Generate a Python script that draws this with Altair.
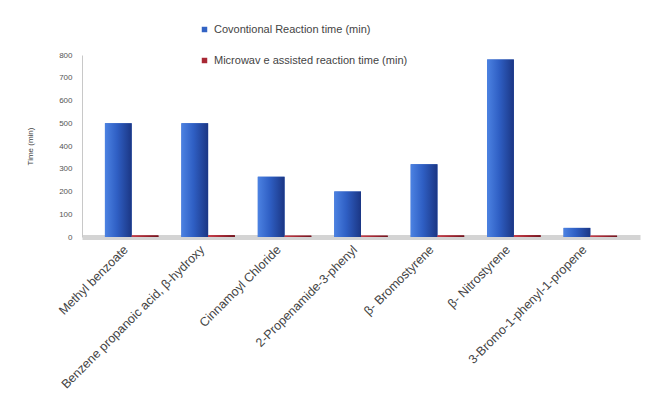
import altair as alt
import pandas as pd

# Compounds on the x axis
compounds = [
    "Methyl benzoate",
    "Benzene propanoic acid, β-hydroxy",
    "Cinnamoyl Chloride",
    "2-Propenamide-3-phenyl",
    "β- Bromostyrene",
    "β- Nitrostyrene",
    "3-Bromo-1-phenyl-1-propene",
]

# Reaction times (min)
conventional = [500, 500, 265, 200, 320, 780, 40]
microwave = [7, 8, 6, 6, 7, 8, 6]

series_names = [
    "Covontional Reaction time (min)",
    "Microwav e assisted reaction time (min)",
]
series_colors = ["#3263C4", "#A82834"]

rows = []
for c, v1, v2 in zip(compounds, conventional, microwave):
    rows.append({"compound": c, "series": series_names[0], "time": v1})
    rows.append({"compound": c, "series": series_names[1], "time": v2})
df = pd.DataFrame(rows)

x_enc = alt.X(
    "compound:N",
    sort=compounds,
    title=None,
    scale=alt.Scale(paddingInner=0.3, paddingOuter=0.3),
    axis=alt.Axis(
        labelAngle=-45,
        labelFontSize=12.5,
        labelColor="#444444",
        labelFont="Liberation Sans",
        labelPadding=6,
        labelOffset=-10,
        ticks=False,
        domainColor="#D4D4D4",
        domainWidth=5,
        labelLimit=400,
    ),
)
y_enc = alt.Y(
    "time:Q",
    title="Time (min)",
    scale=alt.Scale(domain=[0, 800]),
    axis=alt.Axis(
        values=list(range(0, 801, 100)),
        labelFontSize=8,
        labelColor="#555555",
        labelFont="Liberation Sans",
        titleFontSize=8,
        titleFont="Liberation Sans",
        titleFontWeight="normal",
        titleColor="#444444",
        titlePadding=24,
        tickSize=0,
        labelPadding=10,
        domainColor="#C8C8C8",
        grid=False,
    ),
)
xoff = alt.XOffset("series:N", sort=series_names)

# Flat bars carry the colour legend
bars = alt.Chart(df).mark_bar().encode(
    x=x_enc,
    xOffset=xoff,
    y=y_enc,
    color=alt.Color(
        "series:N",
        sort=series_names,
        scale=alt.Scale(domain=series_names, range=series_colors),
        legend=alt.Legend(
            title=None,
            orient="none",
            legendX=117,
            legendY=-31,
            direction="vertical",
            symbolType="square",
            symbolSize=30,
            labelFontSize=11,
            labelFont="Liberation Sans",
            labelColor="#444444",
            rowPadding=19,
            labelLimit=400,
        ),
    ),
)

# Shaded faces on top of the columns for a rounded, lit look
def shaded(series, light, mid, dark):
    return (
        alt.Chart(df)
        .transform_filter(alt.datum.series == series)
        .mark_bar(
            fill=alt.Gradient(
                gradient="linear",
                x1=0, x2=1, y1=0, y2=0,
                stops=[
                    alt.GradientStop(color=light, offset=0),
                    alt.GradientStop(color=mid, offset=0.45),
                    alt.GradientStop(color=dark, offset=1),
                ],
            )
        )
        .encode(x=x_enc, xOffset=xoff, y=y_enc)
    )

chart = (
    alt.layer(
        bars,
        shaded(series_names[0], "#4C82E2", "#2F5FC4", "#1B3684"),
        shaded(series_names[1], "#C8404C", "#A82834", "#6E1620"),
    )
    .properties(
        width=558,
        height=182,
        autosize=alt.AutoSizeParams(type="none"),
        padding={"left": 82, "top": 55, "right": 8, "bottom": 165},
        background="white",
    )
    .configure_view(stroke=None)
)

chart.save("out.html", embed_options={"renderer": "svg", "actions": False})
